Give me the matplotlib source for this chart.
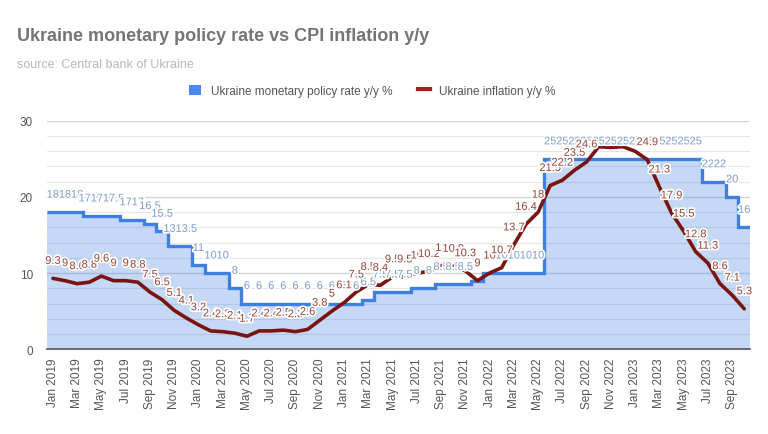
import numpy as np
import pandas as pd
import matplotlib
matplotlib.use("Agg")
import matplotlib.pyplot as plt
import matplotlib.patheffects as pe
from matplotlib.patches import Patch
from matplotlib.lines import Line2D

plt.rcParams['font.family'] = ['Liberation Sans', 'DejaVu Sans']

# monthly categories Jan 2019 .. Oct 2023
months = pd.date_range("2019-01-01", periods=58, freq="MS").strftime("%b %Y").tolist()

policy_rate = [18, 18, 18, 17.5, 17.5, 17.5, 17, 17, 16.5, 15.5, 13.5, 13.5,
               11, 10, 10, 8, 6, 6, 6, 6, 6, 6, 6, 6,
               6, 6, 6.5, 7.5, 7.5, 7.5, 8, 8, 8.5, 8.5, 8.5, 9,
               10, 10, 10, 10, 10, 25, 25, 25, 25, 25, 25, 25,
               25, 25, 25, 25, 25, 25, 22, 22, 20, 16]

inflation = [9.3, 9.0, 8.6, 8.8, 9.6, 9.0, 9.0, 8.8, 7.5, 6.5, 5.1, 4.1,
             3.2, 2.4, 2.3, 2.1, 1.7, 2.4, 2.4, 2.5, 2.3, 2.6, 3.8, 5.0,
             6.1, 7.5, 8.5, 8.4, 9.5, 9.5, 10.0, 10.2, 11.0, 10.9, 10.3, 9.0,
             10.0, 10.7, 13.7, 16.4, 18.0, 21.5, 22.2, 23.5, 24.6, 26.6, 26.5, 26.6,
             26.0, 24.9, 21.3, 17.9, 15.5, 12.8, 11.3, 8.6, 7.1, 5.3]

# labels the chart hides at the inflation peak (they collide with the 25s)
hidden_infl_labels = [45, 46, 47, 48]

rate_color = '#3f7fe0'
infl_color = '#7a1410'

x = np.arange(len(months))
edges = np.arange(len(months) + 1) - 0.5

fig = plt.figure(figsize=(7.68, 4.35), dpi=100)
ax = fig.add_axes([0.061, 0.195, 0.916, 0.525])

# gridlines: major every 10, minor every 2
for v in np.arange(2, 31, 2):
    if v % 10 == 0:
        ax.axhline(v, color='#d4d4d4', lw=1.0, zorder=0)
    else:
        ax.axhline(v, color='#e6e6e6', lw=0.8, zorder=0)

# stepped area for policy rate
ax.stairs(policy_rate, edges, fill=True, baseline=0, color=rate_color, alpha=0.3,
          lw=0, zorder=1)
ax.stairs(policy_rate, edges, baseline=None, color=rate_color, lw=2.4, zorder=2)

# inflation line
ax.plot(x, inflation, color=infl_color, lw=2.6, zorder=3, solid_capstyle='round')

halo = [pe.withStroke(linewidth=2.5, foreground='white')]
for i, v in enumerate(policy_rate):
    ax.annotate('%g' % v, (x[i], v), xytext=(0, 9), textcoords='offset points',
                ha='center', va='bottom', fontsize=8, color='#7f9cc9',
                path_effects=halo, zorder=4)
for i, v in enumerate(inflation):
    if i in hidden_infl_labels:
        continue
    ax.annotate('%g' % v, (x[i], v), xytext=(0, 9), textcoords='offset points',
                ha='center', va='bottom', fontsize=8, color='#96443a',
                path_effects=halo, zorder=5)

ax.set_xlim(-0.5, len(months) - 0.5)
ax.set_ylim(0, 30)
ax.set_yticks([0, 10, 20, 30])
ax.set_xticks(x[::2])
ax.set_xticklabels(months[::2], rotation=90)
ax.tick_params(axis='both', length=0, labelsize=8.5, labelcolor='#555555')
ax.tick_params(axis='x', pad=6)
ax.tick_params(axis='y', pad=10)

for s in ['top', 'right', 'left']:
    ax.spines[s].set_visible(False)
ax.spines['bottom'].set_color('#555555')
ax.spines['bottom'].set_linewidth(1.2)
ax.spines['bottom'].set_zorder(6)

fig.text(0.022, 0.915, 'Ukraine monetary policy rate vs CPI inflation y/y',
         fontsize=13, weight='bold', color='#757575', va='center')
fig.text(0.022, 0.851, 'source: Central bank of Ukraine',
         fontsize=9, color='#b8b8b8', va='center')

handles = [Patch(facecolor='#4a8af0', edgecolor='none'),
           Line2D([0], [0], color='#b01818', lw=3)]
fig.legend(handles, ['Ukraine monetary policy rate y/y %', 'Ukraine inflation y/y %'],
           loc='center', bbox_to_anchor=(0.485, 0.789), ncol=2, frameon=False,
           fontsize=8.5, handlelength=1.0, handleheight=1.0, columnspacing=2.2,
           labelcolor='#555555')

fig.savefig('out.png', dpi=100)
